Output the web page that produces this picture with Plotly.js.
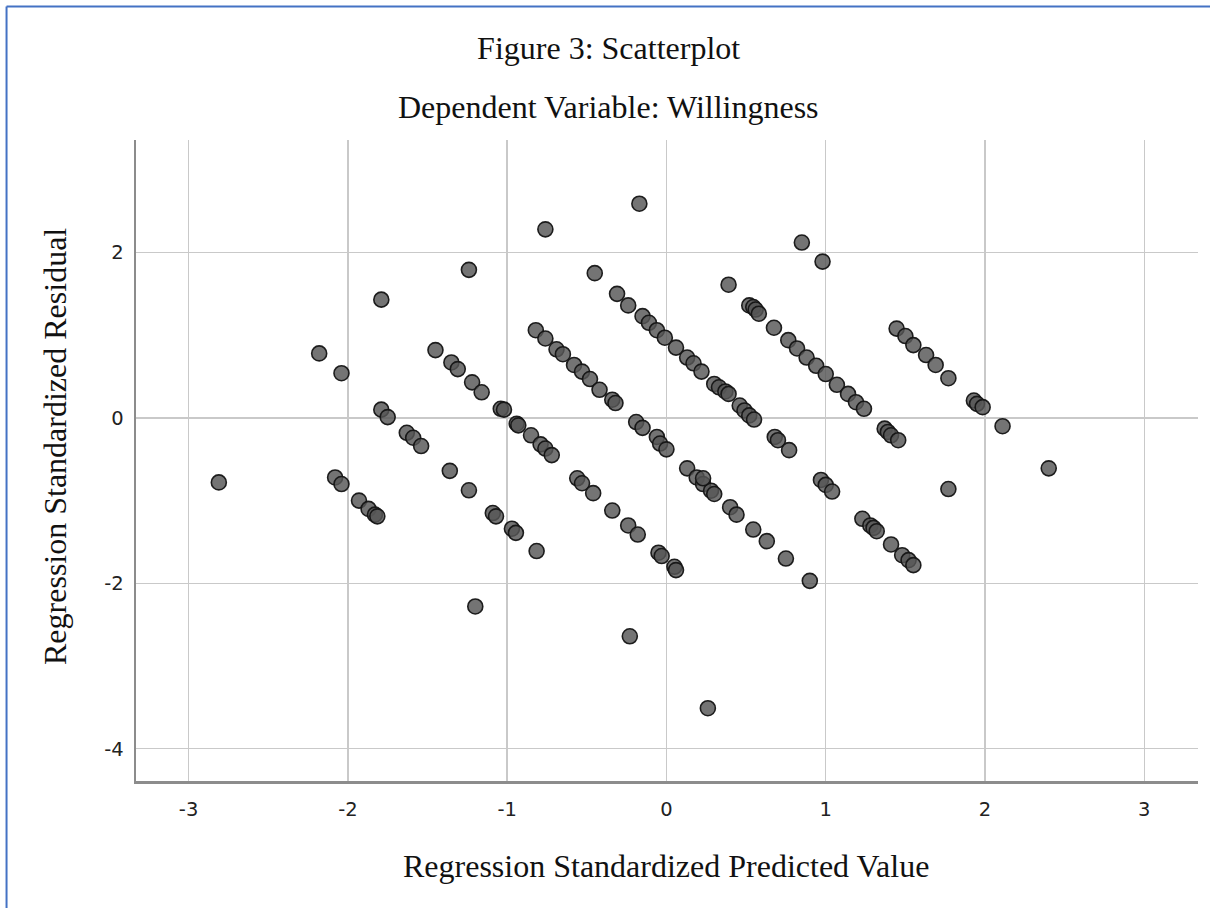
<!DOCTYPE html>
<html>
<head>
<meta charset="utf-8">
<script src="https://cdn.plot.ly/plotly-3.0.1.min.js"></script>
<style>
  html, body { margin: 0; padding: 0; background: #ffffff; }
  #chart { width: 1210px; height: 908px; }
</style>
</head>
<body>
<div id="chart"></div>
<script>
// Regression Standardized Predicted Value (x) and Regression Standardized Residual (y)
const predicted = [
  -2.81, -2.18, -2.04, -1.79, -1.24, -1.45, -1.35, -1.31, -1.22, -1.16,
  -1.79, -1.75, -1.63, -1.59, -1.54, -1.36, -2.08, -2.04, -1.93, -1.87,
  -1.83, -1.815, -1.24, -1.09, -1.07, -1.20,
  -0.17, -0.76, -0.45, -0.31, -0.24, -0.15, -0.11, -0.06, -0.01, 0.06,
  0.13, 0.17, 0.22, 0.30, -0.82, -0.76, -0.69, -0.65, -0.58, -0.53,
  -0.48, -0.42, -0.34, -0.32, -1.04, -1.02, -0.94, -0.93, -0.85, -0.19, -0.15, -0.06,
  -0.79, -0.76, -0.72, -0.56, -0.53, -0.46, -0.34, -0.24, -0.18, -0.05,
  -0.03, 0.05, 0.06, -0.97, -0.945, -0.815, -0.23, 0.26,
  -0.04, 0.00, 0.13, 0.19, 0.23, 0.28, 0.23, 0.30, 0.40, 0.44,
  0.545, 0.63, 0.75, 0.90,
  0.85, 0.98, 0.39, 0.52, 0.545, 0.56, 0.58, 0.675, 0.765, 0.82,
  0.88, 0.94, 1.00, 1.07, 1.14, 1.19, 1.24,
  1.445, 1.50, 1.55, 1.63, 1.69, 1.77,
  0.33, 0.37, 0.39, 0.46, 0.49, 0.52, 0.55, 0.68, 0.70, 0.77,
  1.37, 1.39, 1.41, 1.455,
  0.97, 1.00, 1.04, 1.23, 1.28, 1.30, 1.32, 1.41, 1.48, 1.52, 1.55,
  1.77, 1.93, 1.95, 1.985, 2.11, 2.40
];
const residual = [
  -0.78, 0.78, 0.54, 1.43, 1.79, 0.82, 0.67, 0.59, 0.43, 0.31,
  0.10, 0.01, -0.18, -0.24, -0.34, -0.64, -0.72, -0.80, -1.00, -1.10,
  -1.17, -1.19, -0.875, -1.15, -1.19, -2.28,
  2.59, 2.28, 1.75, 1.50, 1.36, 1.23, 1.15, 1.06, 0.97, 0.85,
  0.73, 0.66, 0.56, 0.41, 1.06, 0.96, 0.83, 0.77, 0.64, 0.56,
  0.47, 0.34, 0.22, 0.18, 0.11, 0.10, -0.07, -0.09, -0.21, -0.05, -0.12, -0.23,
  -0.32, -0.37, -0.45, -0.73, -0.79, -0.91, -1.12, -1.30, -1.41, -1.63,
  -1.67, -1.80, -1.84, -1.34, -1.39, -1.61, -2.64, -3.51,
  -0.31, -0.38, -0.61, -0.72, -0.80, -0.88, -0.73, -0.92, -1.08, -1.17,
  -1.35, -1.49, -1.70, -1.97,
  2.12, 1.89, 1.61, 1.36, 1.34, 1.31, 1.26, 1.09, 0.94, 0.84,
  0.73, 0.63, 0.53, 0.40, 0.29, 0.19, 0.11,
  1.08, 0.99, 0.88, 0.76, 0.64, 0.48,
  0.37, 0.32, 0.29, 0.15, 0.09, 0.03, -0.02, -0.23, -0.27, -0.39,
  -0.13, -0.17, -0.21, -0.27,
  -0.75, -0.81, -0.89, -1.22, -1.30, -1.33, -1.37, -1.53, -1.66, -1.72, -1.78,
  -0.86, 0.21, 0.17, 0.13, -0.10, -0.61
];
const xTicks = [-3, -2, -1, 0, 1, 2, 3];
const yTicks = [-4, -2, 0, 2];

const figureTitle = 'Figure 3: Scatterplot';
const subTitle = 'Dependent Variable: Willingness';
const xTitle = 'Regression Standardized Predicted Value';
const yTitle = 'Regression Standardized Residual';

const serif = 'Liberation Serif, Times New Roman, serif';
const tickFont = { family: 'DejaVu Sans, Verdana, sans-serif', size: 19.5, color: '#222222' };

const trace = {
  type: 'scatter',
  mode: 'markers',
  x: predicted,
  y: residual,
  marker: {
    size: 15,
    color: 'rgba(85,85,85,0.82)',
    line: { color: 'rgba(20,20,20,0.95)', width: 1.6 }
  },
  hoverinfo: 'skip'
};

const axisCommon = {
  showgrid: true,
  gridcolor: '#c9c9c9',
  gridwidth: 1.5,
  zeroline: false,
  showline: true,
  linecolor: '#8c8c8c',
  linewidth: 2.5,
  ticks: '',
  tickfont: tickFont,
  fixedrange: true
};

const layout = {
  width: 1210,
  height: 908,
  paper_bgcolor: '#ffffff',
  plot_bgcolor: '#ffffff',
  showlegend: false,
  margin: { l: 136, r: 12, t: 140, b: 127 },
  title: {
    text: figureTitle,
    font: { family: serif, size: 32, color: '#111111' },
    x: 0.503, xref: 'container', xanchor: 'center',
    y: 0.947, yref: 'container', yanchor: 'middle'
  },
  xaxis: Object.assign({}, axisCommon, {
    range: [-3.33, 3.337],
    tickvals: xTicks,
    ticktext: xTicks.map(String),
    ticklabelstandoff: 9
  }),
  yaxis: Object.assign({}, axisCommon, {
    range: [-4.39, 3.36],
    tickvals: yTicks,
    ticktext: yTicks.map(String),
    ticklabelstandoff: 6
  }),
  annotations: [
    {
      text: subTitle, showarrow: false,
      xref: 'paper', yref: 'paper', x: 0.4449, y: 1.0515,
      xanchor: 'center', yanchor: 'middle',
      font: { family: serif, size: 32, color: '#111111' }
    },
    {
      text: xTitle, showarrow: false,
      xref: 'paper', yref: 'paper', x: 0.4991, y: -0.1326,
      xanchor: 'center', yanchor: 'middle',
      font: { family: serif, size: 32, color: '#111111' }
    },
    {
      text: yTitle, showarrow: false, textangle: -90,
      xref: 'paper', yref: 'paper', x: -0.0763, y: 0.5226,
      xanchor: 'center', yanchor: 'middle',
      font: { family: serif, size: 32, color: '#111111' }
    }
  ],
  shapes: [
    {
      type: 'line', xref: 'paper', yref: 'paper', layer: 'above',
      x0: -0.1219, x1: -0.1219, y0: -0.21, y1: 1.2083,
      line: { color: '#4472C4', width: 2 }
    },
    {
      type: 'line', xref: 'paper', yref: 'paper', layer: 'above',
      x0: -0.1219, x1: 1.02, y0: 1.2083, y1: 1.2083,
      line: { color: '#4472C4', width: 2 }
    }
  ]
};

Plotly.newPlot('chart', [trace], layout, { displayModeBar: false, staticPlot: true });
</script>
</body>
</html>
